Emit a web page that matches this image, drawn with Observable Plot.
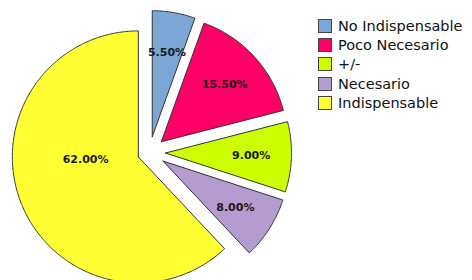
<!DOCTYPE html>
<html>
<head>
<meta charset="utf-8">
<script src="https://cdn.jsdelivr.net/npm/d3@7"></script>
<script src="https://cdn.jsdelivr.net/npm/@observablehq/plot@0.6"></script>
<style>
  body { margin: 0; background: #fff; }
  #wrap { position: relative; width: 472px; height: 280px; overflow: hidden; }
  #legend { position: absolute; left: 318px; top: 16px; font-family: "DejaVu Sans", sans-serif; font-size: 14.5px; color: #111; }
  .row { display: flex; align-items: center; height: 19.4px; white-space: nowrap; }
  .sw { width: 12px; height: 12px; border: 1px solid #444; margin-right: 6px; box-sizing: content-box; }
</style>
</head>
<body>
<div id="wrap"><div id="legend"></div></div>
<script>
const categories = ["No Indispensable", "Poco Necesario", "+/-", "Necesario", "Indispensable"];
const values = [5.5, 15.5, 9, 8, 62];
const labels = ["5.50%", "15.50%", "9.00%", "8.00%", "62.00%"];
const colors = ["#7BA6D5", "#FF0066", "#CCFF00", "#B49CD0", "#FFFF33"];

// layout constants
const W = 472, H = 280;
const cx = 149, cy = 152, R = 126;
const explodeSmall = 16, explodeBig = 12;

const arcs = d3.pie().sort(null).value(d => d)(values);
const polys = [];
const labelPts = [];
arcs.forEach((a, i) => {
  const mid = (a.startAngle + a.endAngle) / 2;
  const ex = i === 4 ? explodeBig : explodeSmall;
  const ox = cx + ex * Math.sin(mid), oy = cy - ex * Math.cos(mid);
  const cat = categories[i];
  polys.push({cat, x: ox, y: oy});
  const n = Math.max(4, Math.ceil((a.endAngle - a.startAngle) / 0.01));
  for (let k = 0; k <= n; k++) {
    const t = a.startAngle + (a.endAngle - a.startAngle) * k / n;
    polys.push({cat, x: ox + R * Math.sin(t), y: oy - R * Math.cos(t)});
  }
  polys.push({cat, x: ox, y: oy});
  const lr = i === 4 ? 0.45 * R : 0.68 * R;
  labelPts.push({cat, label: labels[i], big: i === 4, x: ox + lr * Math.sin(mid), y: oy - lr * Math.cos(mid)});
});

const chart = Plot.plot({
  width: W, height: H,
  margin: 0,
  x: {domain: [0, W], range: [0, W], axis: null},
  y: {domain: [0, H], range: [0, H], axis: null},
  color: {domain: categories, range: colors},
  style: {background: "transparent"},
  marks: [
    Plot.line(polys, {x: "x", y: "y", z: "cat", fill: "cat", stroke: "#333", strokeWidth: 1, curve: "linear"}),
    Plot.text(labelPts.filter(d => !d.big), {x: "x", y: "y", text: "label", fontWeight: "bold", fontSize: 11, fill: "#1a1a1a", fontFamily: "DejaVu Sans"}),
    Plot.text(labelPts.filter(d => d.big), {x: "x", y: "y", text: "label", dy: -18, fontWeight: "bold", fontSize: 11, fill: "#1a1a1a", fontFamily: "DejaVu Sans"})
  ]
});
document.getElementById("wrap").prepend(chart);

const leg = document.getElementById("legend");
categories.forEach((c, i) => {
  const row = document.createElement("div");
  row.className = "row";
  const sw = document.createElement("div");
  sw.className = "sw";
  sw.style.background = colors[i];
  const tx = document.createElement("span");
  tx.textContent = c;
  row.append(sw, tx);
  leg.append(row);
});
</script>
</body>
</html>
